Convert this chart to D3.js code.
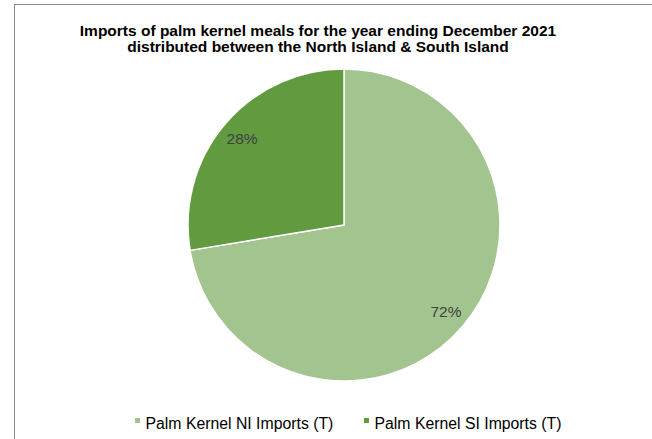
<!DOCTYPE html>
<html><head><meta charset="utf-8">
<script src="https://cdn.jsdelivr.net/npm/d3@7"></script>
<style>body{margin:0;background:#fff;}svg{display:block;font-family:"Liberation Sans",Arial,sans-serif;}</style>
</head><body>
<script>
const categories = ["Palm Kernel NI Imports (T)", "Palm Kernel SI Imports (T)"];
const values = [72.4, 27.6];
const colors = ["#a2c48f", "#629a3f"];
const titleLines = ["Imports of palm kernel meals for the year ending December 2021", "distributed between the North Island & South Island"];

const W = 652, H = 439;
const svg = d3.select("body").append("svg").attr("width", W).attr("height", H);
svg.append("rect").attr("x", 14.5).attr("y", 4.5).attr("width", W + 10).attr("height", H + 10)
  .attr("fill", "#fff").attr("stroke", "#8c8c8c").attr("stroke-width", 1);

svg.append("g").selectAll("text").data(titleLines).join("text")
  .attr("x", 318).attr("y", (d, i) => 36 + i * 16)
  .attr("text-anchor", "middle").attr("font-size", 15.5).attr("font-weight", "bold").attr("fill", "#000")
  .text(d => d);

const cx = 344, cy = 225, r = 156;
const total = d3.sum(values);
const pie = d3.pie().sort(null).value(d => d)(values);
const arc = d3.arc().innerRadius(0).outerRadius(r);
const labelArc = d3.arc().innerRadius(r * 0.857).outerRadius(r * 0.857);
const g = svg.append("g").attr("transform", `translate(${cx},${cy})`);
g.selectAll("path").data(pie).join("path")
  .attr("d", arc).attr("fill", (d, i) => colors[i])
  .attr("stroke", "#fff").attr("stroke-width", 1.5).attr("stroke-linejoin", "round");
g.selectAll("text").data(pie).join("text")
  .attr("transform", d => `translate(${labelArc.centroid(d)})`)
  .attr("text-anchor", "middle").attr("dy", "0.35em")
  .attr("font-size", 15.5).attr("fill", "#404040")
  .text(d => Math.round(d.data / total * 100) + "%");

const legendX = [135, 364];
const lg = svg.append("g").selectAll("g").data(categories).join("g")
  .attr("transform", (d, i) => `translate(${legendX[i]},420.5)`);
lg.append("rect").attr("x", 0).attr("y", -2.5).attr("width", 5).attr("height", 5)
  .attr("fill", (d, i) => colors[i]);
lg.append("text").attr("x", 10.5).attr("y", 2.5).attr("dy", "0.35em")
  .attr("font-size", 15.8).attr("fill", "#000").text(d => d);
</script>
</body></html>
